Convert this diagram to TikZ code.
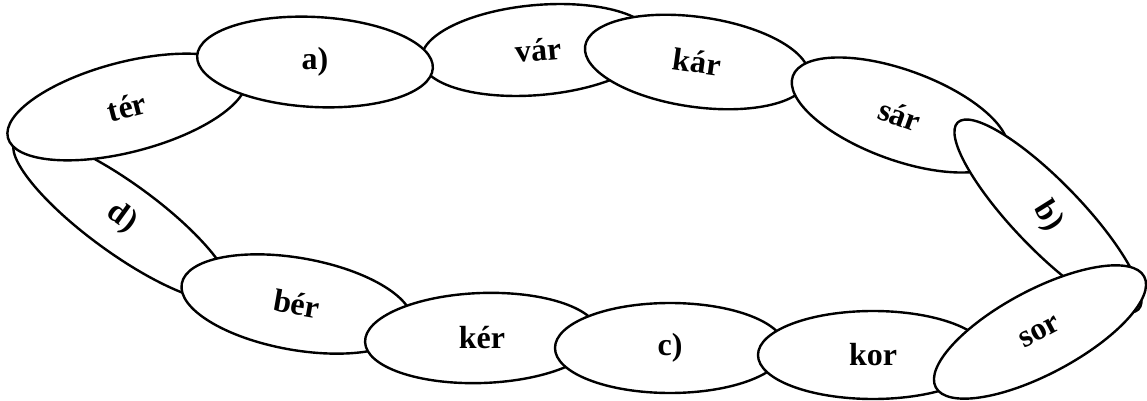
\documentclass[tikz,border=0pt]{standalone}
\usepackage{fontspec}
\setmainfont{Liberation Serif}
\usetikzlibrary{shapes.geometric}
\begin{document}
\begin{tikzpicture}[x=0.5pt, y=-0.5pt,
    oval/.style={ellipse, draw, fill=white, line width=1.2pt, inner sep=0pt,
      font=\fontsize{16}{19}\selectfont\bfseries}]
  \useasboundingbox (0,0) rectangle (1147,401);
  % the ovals, lowest first
  \node[oval, minimum width=132pt, minimum height=35pt, rotate=-36] (d) at (122,218) {d)};
  \node[oval, minimum width=123pt, minimum height=45pt, rotate=14.5] (ter) at (127,107) {tér};
  \node[oval, minimum width=117pt, minimum height=45pt, rotate=5] (var) at (538,50) {vár};
  \node[oval, minimum width=118pt, minimum height=45pt, rotate=-3] (a) at (315,62) {\rotatebox{3}{a)}};
  \node[oval, minimum width=113pt, minimum height=45pt, rotate=-8] (kar) at (697,62) {kár};
  \node[oval, minimum width=114pt, minimum height=45pt, rotate=-20] (sar) at (900,115) {sár};
  \node[oval, minimum width=130pt, minimum height=34pt, rotate=-46] (b) at (1048,216) {\rotatebox{-12}{b)}};
  \node[oval, minimum width=117pt, minimum height=46pt, rotate=-10] (ber) at (297,304) {bér};
  \node[oval, minimum width=117pt, minimum height=45pt, rotate=2] (ker) at (482,338) {\rotatebox{-2}{kér}};
  \node[oval, minimum width=115pt, minimum height=45pt] (c) at (670,348) {c)};
  \node[oval, minimum width=115pt, minimum height=44pt] (kor) at (873,355) {kor};
  \node[oval, minimum width=118pt, minimum height=42pt, rotate=28] (sor) at (1040,332) {sor};
\end{tikzpicture}
\end{document}
